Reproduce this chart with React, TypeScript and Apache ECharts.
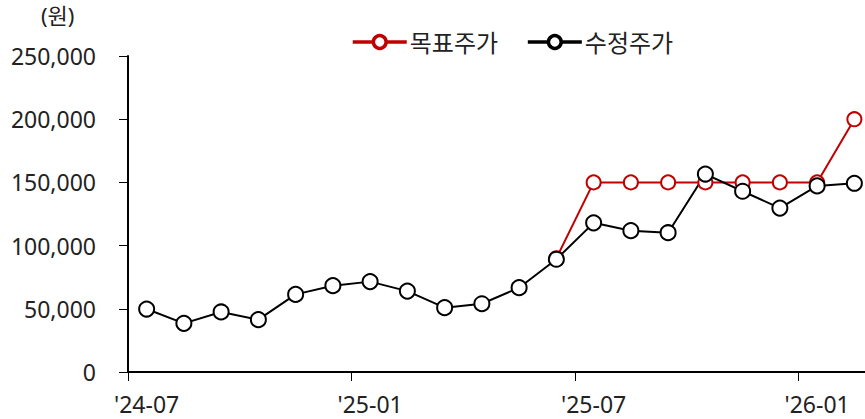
import React, { useEffect, useRef } from "react";
import * as echarts from "echarts";

const categories = [
  "'24-07", "'24-08", "'24-09", "'24-10", "'24-11", "'24-12",
  "'25-01", "'25-02", "'25-03", "'25-04", "'25-05", "'25-06",
  "'25-07", "'25-08", "'25-09", "'25-10", "'25-11", "'25-12",
  "'26-01", "'26-02",
];
const targetPrice: (number | null)[] = [
  null, null, null, null, null, null, null, null, null, null, null,
  90000, 150000, 150000, 150000, 150000, 150000, 150000, 150000, 200000,
];
const adjustedPrice = [
  49800, 38500, 47500, 41400, 61400, 68300, 71500, 64000, 50900, 54000, 66700,
  89200, 118000, 111800, 110200, 156600, 143000, 129700, 147200, 149300,
];
const seriesNames = ["목표주가", "수정주가"];
const unitLabel = "(원)";

const FONT = "'Noto Sans', 'Noto Sans CJK KR', sans-serif";

export default function App() {
  const ref = useRef<HTMLDivElement>(null);
  useEffect(() => {
    if (!ref.current) return;
    const chart = echarts.init(ref.current, undefined, { renderer: "svg" });
    chart.setOption({
      animation: false,
      textStyle: { fontFamily: FONT },
      grid: { left: 128, right: 0, top: 56, bottom: 47, containLabel: false },
      legend: {
        left: 351,
        top: 30,
        padding: 0,
        itemWidth: 54,
        itemHeight: 16,
        itemGap: 28,
        lineStyle: { width: 3.5 },
        itemStyle: { borderWidth: 3.5 },
        textStyle: { fontSize: 24, color: "#222", fontFamily: FONT, padding: [0, 0, 0, -2] },
        data: seriesNames,
      },
      graphic: [
        {
          type: "text",
          left: 41,
          top: 4,
          style: { text: unitLabel, fontSize: 22, fill: "#222", fontFamily: FONT },
        },
      ],
      xAxis: {
        type: "category",
        data: categories,
        boundaryGap: true,
        axisLine: { lineStyle: { color: "#000", width: 2 } },
        axisTick: { show: true, interval: 5, length: 9, lineStyle: { color: "#000", width: 1 } },
        axisLabel: { interval: 5, fontSize: 23, color: "#222", margin: 20, fontFamily: FONT },
        splitLine: { show: false },
      },
      yAxis: {
        type: "value",
        min: 0,
        max: 250000,
        interval: 50000,
        axisLine: { show: true, lineStyle: { color: "#000", width: 2 } },
        axisTick: { show: true, length: 9, lineStyle: { color: "#000", width: 1 } },
        axisLabel: {
          fontSize: 23,
          color: "#222",
          margin: 32,
          fontFamily: FONT,
          formatter: (v: number) => v.toString().replace(/\B(?=(\d{3})+(?!\d))/g, ","),
        },
        splitLine: { show: false },
      },
      series: [
        {
          name: seriesNames[0],
          type: "line",
          data: targetPrice,
          symbol: "circle",
          symbolSize: 14,
          lineStyle: { color: "#C00000", width: 2 },
          itemStyle: { color: "#fff", borderColor: "#C00000", borderWidth: 2 },
          connectNulls: false,
        },
        {
          name: seriesNames[1],
          type: "line",
          data: adjustedPrice,
          symbol: "circle",
          symbolSize: 15,
          lineStyle: { color: "#000", width: 2 },
          itemStyle: { color: "#fff", borderColor: "#000", borderWidth: 2 },
        },
      ],
    });
    return () => chart.dispose();
  }, []);
  return (
    <div
      style={{
        position: "absolute",
        left: 0,
        top: 0,
        width: 865,
        height: 419,
        overflow: "hidden",
      }}
    >
      <div ref={ref} style={{ width: 873, height: 419 }} />
    </div>
  );
}
